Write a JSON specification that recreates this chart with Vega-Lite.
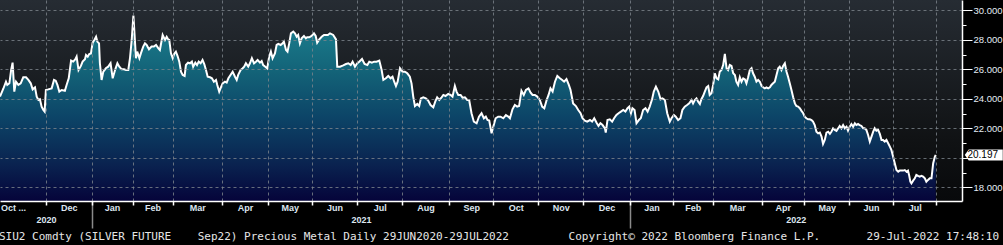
{
"$schema": "https://vega.github.io/schema/vega-lite/v6.json",
"width": 962,
"height": 201,
"autosize": {"type": "none"},
"padding": {"left": 0, "top": 0, "right": 41, "bottom": 44},
"background": "#000000",
"config": {
  "view": {"stroke": null, "fill": {"gradient": "linear", "x1": 0, "y1": 0, "x2": 0, "y2": 1, "stops": [{"offset": 0, "color": "#262c33"}, {"offset": 0.7, "color": "#101214"}, {"offset": 1, "color": "#08090b"}]}}
},
"title": {"text": "SIU2 Comdty (SILVER FUTURE\u00a0\u00a0\u00a0\u00a0Sep22) Precious Metal\u00a0Daily 29JUN2020-29JUL2022\u00a0\u00a0\u00a0\u00a0\u00a0\u00a0\u00a0\u00a0\u00a0Copyright\u00a9 2022 Bloomberg Finance L.P.\u00a0\u00a0\u00a0\u00a0\u00a0\u00a0\u00a029-Jul-2022 17:48:10", "orient": "bottom", "anchor": "start", "font": "DejaVu Sans Mono", "fontSize": 11, "fontWeight": "normal", "color": "#e6e6e6", "dx": 3, "offset": 2},
"data": {"values": [
{"day":0,"price":24.15},{"day":1.6,"price":24.7},{"day":2.8,"price":25.16},{"day":3.4,"price":24.94},{"day":4.4,"price":25.05},{"day":5.2,"price":25.95},{"day":5.9,"price":26.45},{"day":6.7,"price":24.49},{"day":7.5,"price":25.16},{"day":8.6,"price":24.94},{"day":9.7,"price":25.05},{"day":10.9,"price":25.46},{"day":12.2,"price":25.46},{"day":13.3,"price":25.28},{"day":14.4,"price":25.05},{"day":15.3,"price":24.64},{"day":16.4,"price":24.78},{"day":17.2,"price":24.15},{"day":18,"price":23.92},{"day":18.7,"price":23.97},{"day":19.5,"price":23.47},{"day":20.3,"price":23.24},{"day":20.9,"price":23.13},{"day":21.5,"price":24.6},{"day":22.6,"price":24.64},{"day":24.2,"price":24.71},{"day":25.3,"price":25.28},{"day":26.1,"price":25.23},{"day":26.9,"price":24.94},{"day":27.8,"price":24.49},{"day":28.9,"price":24.6},{"day":30.4,"price":24.55},{"day":31.2,"price":24.94},{"day":32.2,"price":25.39},{"day":33.3,"price":26.59},{"day":34.3,"price":26.52},{"day":35.3,"price":26.68},{"day":35.9,"price":26.86},{"day":36.8,"price":25.95},{"day":37.9,"price":26.23},{"day":38.7,"price":26.52},{"day":39.8,"price":26.68},{"day":40.3,"price":26.97},{"day":41.1,"price":26.86},{"day":41.8,"price":27.04},{"day":42.6,"price":27.08},{"day":43.4,"price":27.81},{"day":44.2,"price":27.99},{"day":45,"price":28.21},{"day":45.6,"price":27.88},{"day":46.4,"price":27.76},{"day":46.8,"price":26.41},{"day":47.6,"price":25.28},{"day":48.4,"price":25.84},{"day":49.6,"price":26.07},{"day":50.7,"price":26.18},{"day":51.8,"price":26.41},{"day":52.8,"price":25.39},{"day":53.9,"price":25.95},{"day":55,"price":26.41},{"day":55.9,"price":26.18},{"day":57,"price":26},{"day":58.1,"price":26},{"day":59,"price":25.95},{"day":60.1,"price":25.95},{"day":60.9,"price":26.75},{"day":61.7,"price":27.99},{"day":62.5,"price":29.64},{"day":63.1,"price":28.21},{"day":63.7,"price":26.75},{"day":64.3,"price":27.2},{"day":65.3,"price":26.75},{"day":66,"price":27.08},{"day":67.1,"price":27.54},{"day":67.9,"price":27.76},{"day":68.7,"price":27.65},{"day":69.8,"price":27.36},{"day":71,"price":27.54},{"day":72.1,"price":27.54},{"day":73.1,"price":27.65},{"day":74.2,"price":27.42},
{"day":74.9,"price":27.31},{"day":76.2,"price":28.33},{"day":77.3,"price":27.99},{"day":78.1,"price":28.21},{"day":78.8,"price":28.03},{"day":79.3,"price":27.99},{"day":80.1,"price":27.08},{"day":80.9,"price":26.75},{"day":81.7,"price":27.08},{"day":82.4,"price":27.2},{"day":83.2,"price":26.9},{"day":84,"price":26.52},{"day":84.8,"price":25.84},{"day":85.6,"price":25.62},{"day":86.5,"price":25.55},{"day":87.1,"price":26.29},{"day":88.1,"price":26.45},{"day":89,"price":26.41},{"day":89.9,"price":26.52},{"day":90.5,"price":26.18},{"day":91.5,"price":26.45},{"day":92.3,"price":26.29},{"day":93.1,"price":26.52},{"day":94,"price":26.41},{"day":94.9,"price":26.63},{"day":95.7,"price":26.36},{"day":96.5,"price":25.95},{"day":97.3,"price":25.5},{"day":98.4,"price":25.46},{"day":99.3,"price":25.39},{"day":100.2,"price":25.16},{"day":101.2,"price":25.28},{"day":101.8,"price":24.94},{"day":102.7,"price":24.49},{"day":103.5,"price":24.78},{"day":104.3,"price":25.05},{"day":105.4,"price":25.16},{"day":106.2,"price":25.1},{"day":107,"price":25.39},{"day":108,"price":25.62},{"day":109,"price":25.84},{"day":110.1,"price":25.5},{"day":110.9,"price":25.28},{"day":111.6,"price":25.62},{"day":112.7,"price":25.95},{"day":113.7,"price":26.07},{"day":114.4,"price":26.18},{"day":115.2,"price":26.41},{"day":116.3,"price":26.18},{"day":117.1,"price":26.41},{"day":118,"price":26.75},{"day":119,"price":26.41},{"day":119.9,"price":26.52},{"day":120.7,"price":26.63},{"day":121.8,"price":26.45},{"day":122.6,"price":26.56},{"day":123.3,"price":26.29},{"day":124.3,"price":26.18},{"day":125.2,"price":26.07},{"day":126.1,"price":26.86},{"day":126.9,"price":27.2},{"day":127.7,"price":26.75},{"day":128.8,"price":27.08},{"day":129.6,"price":27.65},{"day":130.4,"price":27.72},{"day":131.5,"price":27.65},{"day":132.4,"price":27.76},{"day":133,"price":27.88},{"day":134,"price":27.31},{"day":134.7,"price":27.2},{"day":135.5,"price":27.76},{"day":136.3,"price":28.44},{"day":137.4,"price":28.56},{"day":138.2,"price":28.44},{"day":139,"price":28.21},{"day":139.7,"price":28.33},{"day":140.5,"price":27.76},{"day":141.3,"price":28.1},{"day":142.4,"price":28.26},{"day":143.3,"price":28.1},{"day":143.9,"price":28.17},{"day":144.9,"price":28.17},{"day":146,"price":28.26},{"day":147.1,"price":28.44},{"day":147.9,"price":28.26},{"day":148.6,"price":27.81},{"day":149.6,"price":28.03},{"day":150.7,"price":28.21},{"day":151.8,"price":28.33},{"day":153.6,"price":28.33},
{"day":154.6,"price":28.44},{"day":156.1,"price":28.33},{"day":157.4,"price":28.03},{"day":158,"price":26.18},{"day":159.3,"price":26.18},{"day":160.8,"price":26.27},{"day":162.1,"price":26.36},{"day":163.2,"price":26.41},{"day":164.3,"price":26.29},{"day":165.2,"price":26.52},{"day":166.3,"price":26.18},{"day":167.4,"price":26.41},{"day":168.3,"price":26.52},{"day":169.6,"price":26.7},{"day":170.8,"price":26.36},{"day":172.1,"price":26.29},{"day":173,"price":26.52},{"day":174.2,"price":26.45},{"day":175.3,"price":26.52},{"day":176.4,"price":26.52},{"day":177.7,"price":26.59},{"day":178.8,"price":25.95},{"day":179.6,"price":25.28},{"day":180.8,"price":25.39},{"day":181.9,"price":25.55},{"day":183,"price":25.39},{"day":183.9,"price":25.5},{"day":184.7,"price":25.16},{"day":185.5,"price":24.87},{"day":186.3,"price":25.16},{"day":187.4,"price":26.07},{"day":188.6,"price":25.84},{"day":189.7,"price":25.84},{"day":190.8,"price":25.73},{"day":192,"price":25.5},{"day":192.8,"price":25.05},{"day":193.6,"price":24.15},{"day":194.4,"price":23.51},{"day":195.5,"price":23.65},{"day":196.4,"price":23.51},{"day":197.2,"price":24.03},{"day":198.3,"price":24.1},{"day":199.5,"price":24.03},{"day":200.6,"price":23.88},{"day":201.7,"price":23.58},{"day":203,"price":23.42},{"day":203.9,"price":23.81},{"day":204.8,"price":24.1},{"day":205.8,"price":23.92},{"day":206.9,"price":24.1},{"day":207.7,"price":24.26},{"day":208.7,"price":24.19},{"day":210,"price":24.33},{"day":211.1,"price":24.26},{"day":212,"price":24.15},{"day":213.1,"price":24.87},{"day":213.9,"price":24.49},{"day":214.7,"price":24.26},{"day":215.8,"price":24.26},{"day":216.7,"price":24.08},{"day":217.8,"price":24.1},{"day":218.9,"price":23.92},{"day":219.8,"price":23.92},{"day":220.9,"price":23.02},{"day":222,"price":22.45},{"day":223.3,"price":22.34},{"day":224.4,"price":22.79},{"day":225.6,"price":23.02},{"day":226.7,"price":22.68},{"day":227.6,"price":22.79},{"day":228.4,"price":22.56},{"day":229.2,"price":22.52},{"day":230.3,"price":21.66},{"day":231.1,"price":22.11},{"day":232.2,"price":22.68},{"day":233.4,"price":22.79},{"day":234.5,"price":22.79},{"day":235.8,"price":22.68},{"day":237,"price":22.9},{"day":238.1,"price":22.79},{"day":238.9,"price":22.68},{"day":240.1,"price":23.29},{"day":241.2,"price":23.58},{"day":242.3,"price":23.47},{"day":243.2,"price":23.51},{"day":244.3,"price":24.55},{"day":245.4,"price":24.26},{"day":246.4,"price":24.6},{"day":247.6,"price":24.71},{"day":248.6,"price":24.42},{"day":249.5,"price":24.26},{"day":250.6,"price":24.26},{"day":251.7,"price":24.15},{"day":252.9,"price":23.92},{"day":254,"price":23.47},{"day":255,"price":23.36},{"day":256.1,"price":23.92},{"day":257,"price":24.26},{"day":257.9,"price":24.71},{"day":258.9,"price":24.49},{"day":260,"price":25.16},{"day":261.1,"price":25.55},{"day":262.3,"price":25.39},{"day":263.4,"price":25.28},{"day":264.3,"price":25.16},{"day":265.4,"price":25.34},{"day":266.5,"price":24.94},{"day":267.3,"price":24.6},{"day":268.5,"price":23.69},{"day":269.8,"price":23.51},{"day":270.9,"price":23.24},{"day":272,"price":23.02},{"day":272.9,"price":22.68},{"day":274,"price":22.52},{"day":275.1,"price":22.45},{"day":276.4,"price":22.56},{"day":277.4,"price":22.45},{"day":278.4,"price":22.68},{"day":279.5,"price":22.38},{"day":280.4,"price":22.16},{"day":281.3,"price":22.34},{"day":282.3,"price":22.22},{"day":283.4,"price":22},{"day":283.8,"price":21.71},{"day":284.6,"price":22.56},{"day":285.7,"price":22.61},{"day":286.8,"price":22.45},{"day":287.7,"price":22.68},{"day":288.8,"price":22.9},{"day":289.8,"price":23.02},{"day":290.9,"price":23.13},{"day":292,"price":23.24},{"day":293,"price":23.13},{"day":294,"price":23.36},{"day":294.8,"price":23.47},{"day":295.6,"price":23.02},{"day":296.3,"price":23.36},{"day":297.3,"price":23.24},{"day":298.2,"price":22.34},{"day":299.3,"price":22.56},{"day":300.2,"price":22.68},{"day":301.3,"price":23.24},{"day":302.4,"price":23.36},{"day":303.4,"price":23.13},{"day":304.4,"price":23.47},{"day":305.5,"price":23.97},{"day":306.3,"price":24.49},{"day":307.3,"price":24.82},{"day":308.4,"price":24.49},{"day":309.5,"price":23.97},{"day":310.4,"price":24.03},{"day":311.5,"price":23.92},{"day":312.6,"price":23.02},{"day":313.8,"price":22.45},
{"day":314.6,"price":22.68},{"day":315.7,"price":22.9},{"day":316.6,"price":22.79},{"day":317.7,"price":22.56},{"day":318.8,"price":22.68},{"day":319.7,"price":23.24},{"day":320.8,"price":23.47},{"day":321.9,"price":23.58},{"day":322.9,"price":23.69},{"day":324,"price":23.92},{"day":324.7,"price":23.69},{"day":325.5,"price":23.92},{"day":326.3,"price":24.03},{"day":327.1,"price":23.81},{"day":327.9,"price":23.65},{"day":328.6,"price":23.97},{"day":329.4,"price":24.19},{"day":330.2,"price":24.49},{"day":331,"price":24.78},{"day":331.8,"price":24.87},{"day":332.5,"price":24.26},{"day":333.3,"price":24.37},{"day":334.1,"price":24.94},{"day":334.9,"price":25.73},{"day":335.7,"price":25.39},{"day":336.5,"price":25.32},{"day":337.2,"price":25.84},{"day":338,"price":25.95},{"day":338.8,"price":26.29},{"day":339.6,"price":27.04},{"day":340.4,"price":26.07},{"day":341.1,"price":25.95},{"day":341.9,"price":26.29},{"day":342.7,"price":26.23},{"day":343.5,"price":25.73},{"day":344.3,"price":25.62},{"day":345,"price":25.16},{"day":345.8,"price":24.94},{"day":346.6,"price":25.46},{"day":347.4,"price":25.16},{"day":348.2,"price":25.39},{"day":349,"price":25.32},{"day":349.7,"price":25.05},{"day":350.5,"price":25.46},{"day":351.3,"price":25.95},{"day":352.1,"price":26.07},{"day":352.8,"price":25.73},{"day":353.6,"price":25.5},{"day":354.4,"price":25.16},{"day":355.2,"price":25.28},{"day":356,"price":25.16},{"day":356.8,"price":24.87},{"day":357.5,"price":24.78},{"day":358.3,"price":24.71},{"day":359.1,"price":24.78},{"day":359.9,"price":24.71},{"day":360.7,"price":24.78},{"day":361.4,"price":24.94},{"day":362.2,"price":25.05},{"day":363,"price":25.16},{"day":363.8,"price":25.62},{"day":364.6,"price":26.07},{"day":365.3,"price":26.18},{"day":366.1,"price":25.95},{"day":366.9,"price":26.23},{"day":367.7,"price":26.41},{"day":368.5,"price":25.84},{"day":369.2,"price":25.5},{"day":370,"price":25.05},{"day":370.8,"price":24.6},{"day":371.6,"price":24.1},{"day":372.4,"price":23.69},{"day":373.1,"price":23.51},{"day":373.9,"price":23.47},{"day":374.7,"price":23.36},{"day":375.5,"price":23.18},{"day":376.3,"price":23.02},{"day":377,"price":22.79},{"day":377.8,"price":22.68},{"day":378.6,"price":22.61},{"day":379.4,"price":22.61},{"day":380.2,"price":22.56},{"day":380.9,"price":22.45},{"day":381.7,"price":22.22},{"day":382.5,"price":21.77},{"day":383.3,"price":21.66},{"day":384.1,"price":21.71},{"day":384.9,"price":21.44},{"day":385.6,"price":20.94},{"day":386.4,"price":21.21},{"day":387.2,"price":21.71},{"day":388,"price":21.77},{"day":388.8,"price":21.62},{"day":389.5,"price":21.77},{"day":390.3,"price":22},{"day":391.1,"price":21.89},{"day":391.9,"price":21.82},{"day":392.7,"price":22},{"day":393.4,"price":22.16},{"day":394.2,"price":22},{"day":395,"price":22.22},{"day":395.8,"price":22},{"day":396.6,"price":22.11},{"day":397.3,"price":21.84},{"day":398.1,"price":22.11},{"day":398.9,"price":22.29},{"day":399.7,"price":22.11},{"day":400.5,"price":22.34},{"day":401.2,"price":22.22},{"day":402,"price":22.29},{"day":402.8,"price":22.22},{"day":403.6,"price":22.16},{"day":404.4,"price":22},{"day":405.1,"price":22},{"day":405.9,"price":21.89},{"day":406.7,"price":21.55},{"day":407.5,"price":21.1},{"day":408.3,"price":21.44},{"day":409.1,"price":21.77},{"day":409.8,"price":22},{"day":410.6,"price":21.84},{"day":411.4,"price":21.89},{"day":412.2,"price":21.62},{"day":413,"price":21.21},{"day":413.7,"price":21.21},{"day":414.5,"price":21.1},{"day":415.3,"price":21.21},{"day":416.1,"price":20.99},{"day":416.9,"price":20.76},{"day":417.6,"price":20.54},{"day":418.4,"price":20.08},{"day":419.2,"price":19.63},{"day":420,"price":19.17},{"day":420.8,"price":19.06},{"day":421.5,"price":19.13},{"day":422.3,"price":19.13},{"day":423.1,"price":19.13},{"day":423.9,"price":19.17},{"day":424.7,"price":19.06},{"day":425.4,"price":19.13},{"day":425.9,"price":18.84},{"day":426.5,"price":18.38},{"day":427,"price":18.27},{"day":427.8,"price":18.45},{"day":428.6,"price":18.61},{"day":429.3,"price":18.84},{"day":430.1,"price":18.77},{"day":430.9,"price":18.72},{"day":431.7,"price":18.77},{"day":432.5,"price":18.72},{"day":433.3,"price":18.61},{"day":434,"price":18.38},{"day":434.8,"price":18.5},{"day":435.6,"price":18.61},{"day":436.4,"price":18.61},{"day":437.2,"price":19.63},{"day":438,"price":20.08},{"day":438.4,"price":20.197}
]},
"layer": [
{
  "mark": {"type": "area", "line": false, "fill": {"gradient": "linear", "x1": 0, "y1": 0, "x2": 0, "y2": 1, "stops": [{"offset": 0, "color": "#1d8392"}, {"offset": 0.3, "color": "#136378"}, {"offset": 0.55, "color": "#0c4467"}, {"offset": 0.8, "color": "#0a2350"}, {"offset": 1, "color": "#05043a"}]}},
  "encoding": {
    "x": {"field": "day", "type": "quantitative", "scale": {"domain": [0, 450.7], "nice": false, "zero": false},
      "axis": {"orient": "bottom", "title": null, "values": [21.4, 43, 62.1, 80.9, 103.8, 125.6, 146, 167.3, 188.4, 210.4, 231.1, 252.1, 273.2, 295.2, 315.1, 334.1, 356.8, 376.8, 397.8, 418.4, 438.7], "labels": false, "tickSize": 4, "tickColor": "#ffffff", "tickWidth": 1.5, "domain": true, "domainColor": "#ffffff", "domainWidth": 1.5, "grid": true, "gridColor": "#7d848c", "gridDash": [3, 3], "gridWidth": 1, "gridOpacity": 0.8, "zindex": 1}},
    "y": {"field": "price", "type": "quantitative", "scale": {"domain": [17.07, 30.7], "nice": false, "zero": false},
      "axis": {"orient": "right", "title": null, "values": [18, 19, 20, 21, 22, 23, 24, 25, 26, 27, 28, 29, 30], "labelExpr": "(datum.value % 2 == 1 || datum.value == 20) ? '' : format(datum.value, '.3f')", "labelColor": "#e4ecf4", "labelFont": "Liberation Sans", "labelFontSize": 9.5, "labelPadding": 1, "labelOverlap": false, "tickColor": "#ffffff", "tickWidth": 1, "tickSize": {"condition": {"test": "datum.value % 2 == 0", "value": 10}, "value": 4}, "domain": true, "domainColor": "#ffffff", "domainWidth": 1.5, "grid": true, "gridColor": "#7d848c", "gridDash": [3, 3], "gridWidth": 1, "gridOpacity": {"condition": {"test": "datum.value % 2 == 0", "value": 0.8}, "value": 0}, "zindex": 1}},
    "y2": {"datum": 17.07}
  }
},
{
  "mark": {"type": "line", "color": "#ffffff", "strokeWidth": 2},
  "encoding": {
    "x": {"field": "day", "type": "quantitative", "scale": {"domain": [0, 450.7], "nice": false, "zero": false},
      "axis": {"orient": "bottom", "title": null, "values": [6.1, 32.2, 52.5, 71.5, 92.4, 114.8, 135.8, 156.7, 177.9, 199.4, 220.8, 241.6, 262.7, 284.2, 305.2, 324.6, 345.4, 366.7, 387.3, 408.1, 428.6], "labelExpr": "['Oct ...','Dec','Jan','Feb','Mar','Apr','May','Jun','Jul','Aug','Sep','Oct','Nov','Dec','Jan','Feb','Mar','Apr','May','Jun','Jul'][indexof([6.1, 32.2, 52.5, 71.5, 92.4, 114.8, 135.8, 156.7, 177.9, 199.4, 220.8, 241.6, 262.7, 284.2, 305.2, 324.6, 345.4, 366.7, 387.3, 408.1, 428.6], datum.value)]", "ticks": false, "domain": false, "grid": false, "labelPadding": 2, "labelColor": "#dde6f0", "labelFont": "Liberation Sans", "labelFontSize": 9, "labelFontWeight": "bold", "labelOverlap": false, "labelFlush": false}},
    "y": {"field": "price", "type": "quantitative", "scale": {"domain": [17.07, 30.7], "nice": false, "zero": false}, "axis": null}
  }
},
{
  "transform": [{"filter": "datum.day > 438"}],
  "mark": {"type": "point", "shape": "M -1 0 L -0.79 -0.29 L 1 -0.29 L 1 0.29 L -0.79 0.29 Z", "size": 1444, "filled": true, "color": "#ffffff", "opacity": 1, "xOffset": 48},
  "encoding": {
    "x": {"field": "day", "type": "quantitative", "scale": {"domain": [0, 450.7], "nice": false, "zero": false},
      "axis": {"orient": "bottom", "title": null, "values": [21.5, 169.1, 372.8], "labelExpr": "datum.value < 100 ? '2020' : (datum.value < 300 ? '2021' : '2022')", "ticks": false, "domain": false, "grid": false, "labelPadding": 14, "labelColor": "#dde6f0", "labelFont": "Liberation Sans", "labelFontSize": 9, "labelFontWeight": "bold", "labelOverlap": false, "labelFlush": false}},
    "y": {"field": "price", "type": "quantitative", "scale": {"domain": [17.07, 30.7], "nice": false, "zero": false}, "axis": null}
  }
},
{
  "transform": [{"filter": "datum.day > 438"}],
  "mark": {"type": "text", "dx": 47, "align": "center", "baseline": "middle", "color": "#000000", "font": "Liberation Sans", "fontSize": 10},
  "encoding": {
    "x": {"field": "day", "type": "quantitative", "scale": {"domain": [0, 450.7], "nice": false, "zero": false},
      "axis": {"orient": "bottom", "title": null, "values": [43, 295.2], "labels": false, "tickSize": 27, "tickColor": "#8a8a8a", "tickWidth": 1.5, "domain": false, "grid": false, "zindex": 0}},
    "y": {"field": "price", "type": "quantitative", "scale": {"domain": [17.07, 30.7], "nice": false, "zero": false}, "axis": null},
    "text": {"field": "price", "type": "quantitative", "format": ".3f"}
  }
}
],
"resolve": {"axis": {"x": "independent", "y": "independent"}}
}
